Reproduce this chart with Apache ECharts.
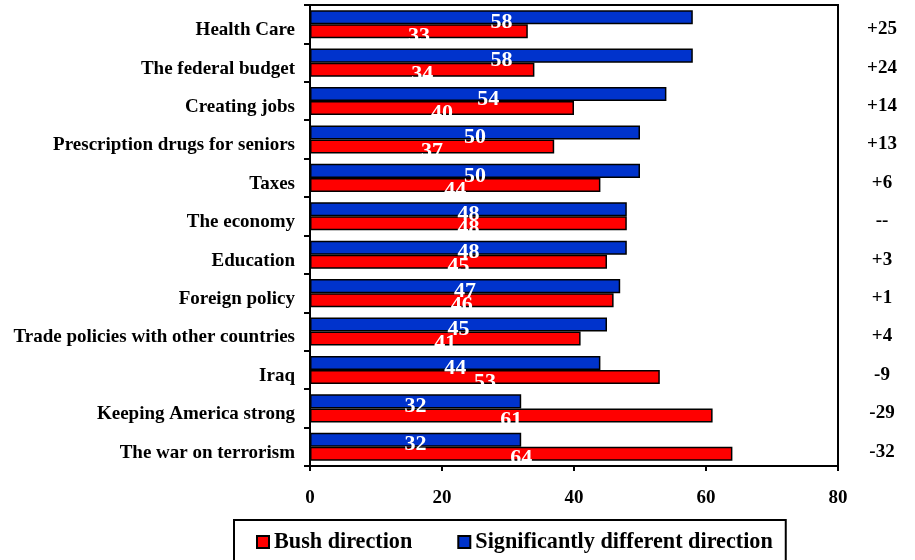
<!DOCTYPE html>
<html>
<head>
<meta charset="utf-8">
<script src="https://cdn.jsdelivr.net/npm/echarts@6/dist/echarts.min.js"></script>
<style>html,body{margin:0;padding:0;background:#fff}#c{width:915px;height:560px}</style>
</head>
<body>
<div id="c"></div>
<script>
// Listed top to bottom as in the picture
const categories = ["Health Care","The federal budget","Creating jobs","Prescription drugs for seniors","Taxes","The economy","Education","Foreign policy","Trade policies with other countries","Iraq","Keeping America strong","The war on terrorism"];
const bushDirection = [33,34,40,37,44,48,45,46,41,53,61,64];
const differentDirection = [58,58,54,50,50,48,48,47,45,44,32,32];
const margins = ["+25","+24","+14","+13","+6","--","+3","+1","+4","-9","-29","-32"];
const xTicks = [0,20,40,60,80];

const rev = a => a.slice().reverse();
const FONT = '"Liberation Serif","Times New Roman",serif';

const chart = echarts.init(document.getElementById('c'), null, {renderer:'canvas'});
const labelStyle = {show:true, position:'inside', offset:[0,5], color:'#fff', fontFamily:FONT, fontWeight:'bold', fontSize:22};
chart.setOption({
  animation:false,
  backgroundColor:'#fff',
  grid:{left:310, right:77, top:5, bottom:94, show:true, borderColor:'#000', borderWidth:2, containLabel:false},
  legend:{
    left:234, top:520, orient:'horizontal',
    padding:[11,13,30,22], itemGap:45, itemWidth:12, itemHeight:12,
    borderColor:'#000', borderWidth:2,
    icon:'rect',
    textStyle:{fontFamily:FONT, fontWeight:'bold', fontSize:22.2, color:'#000'},
    data:['Bush direction','Significantly different direction']
  },
  xAxis:{
    type:'value', min:xTicks[0], max:xTicks[xTicks.length-1], interval:20,
    axisLine:{show:true, lineStyle:{color:'#000', width:2}},
    axisTick:{show:true, length:5, lineStyle:{color:'#000', width:2}},
    splitLine:{show:false},
    axisLabel:{margin:23, color:'#000', fontFamily:FONT, fontWeight:'bold', fontSize:19}
  },
  yAxis:[{
    type:'category', data:rev(categories), position:'left',
    axisLine:{show:true, lineStyle:{color:'#000', width:2}},
    axisTick:{show:true, length:6, inside:false, lineStyle:{color:'#000', width:2}},
    axisLabel:{margin:15, verticalAlign:'top', lineHeight:12, color:'#000', fontFamily:FONT, fontWeight:'bold', fontSize:19}
  },{
    type:'category', data:rev(margins), position:'right',
    axisLine:{show:false}, axisTick:{show:false},
    axisLabel:{margin:44, align:'center', verticalAlign:'top', lineHeight:10, color:'#000', fontFamily:FONT, fontWeight:'bold', fontSize:19}
  }],
  series:[{
    name:'Significantly different direction', type:'bar', yAxisIndex:0, data:rev(differentDirection),
    barCategoryGap:'27%', barGap:'0%',
    itemStyle:{color:'#0033cc', borderColor:'#000', borderWidth:1.5},
    label:labelStyle
  },{
    name:'Bush direction', type:'bar', yAxisIndex:0, data:rev(bushDirection),
    barCategoryGap:'27%', barGap:'0%',
    itemStyle:{color:'#ff0000', borderColor:'#000', borderWidth:1.5},
    label:labelStyle
  }]
});
</script>
</body>
</html>
